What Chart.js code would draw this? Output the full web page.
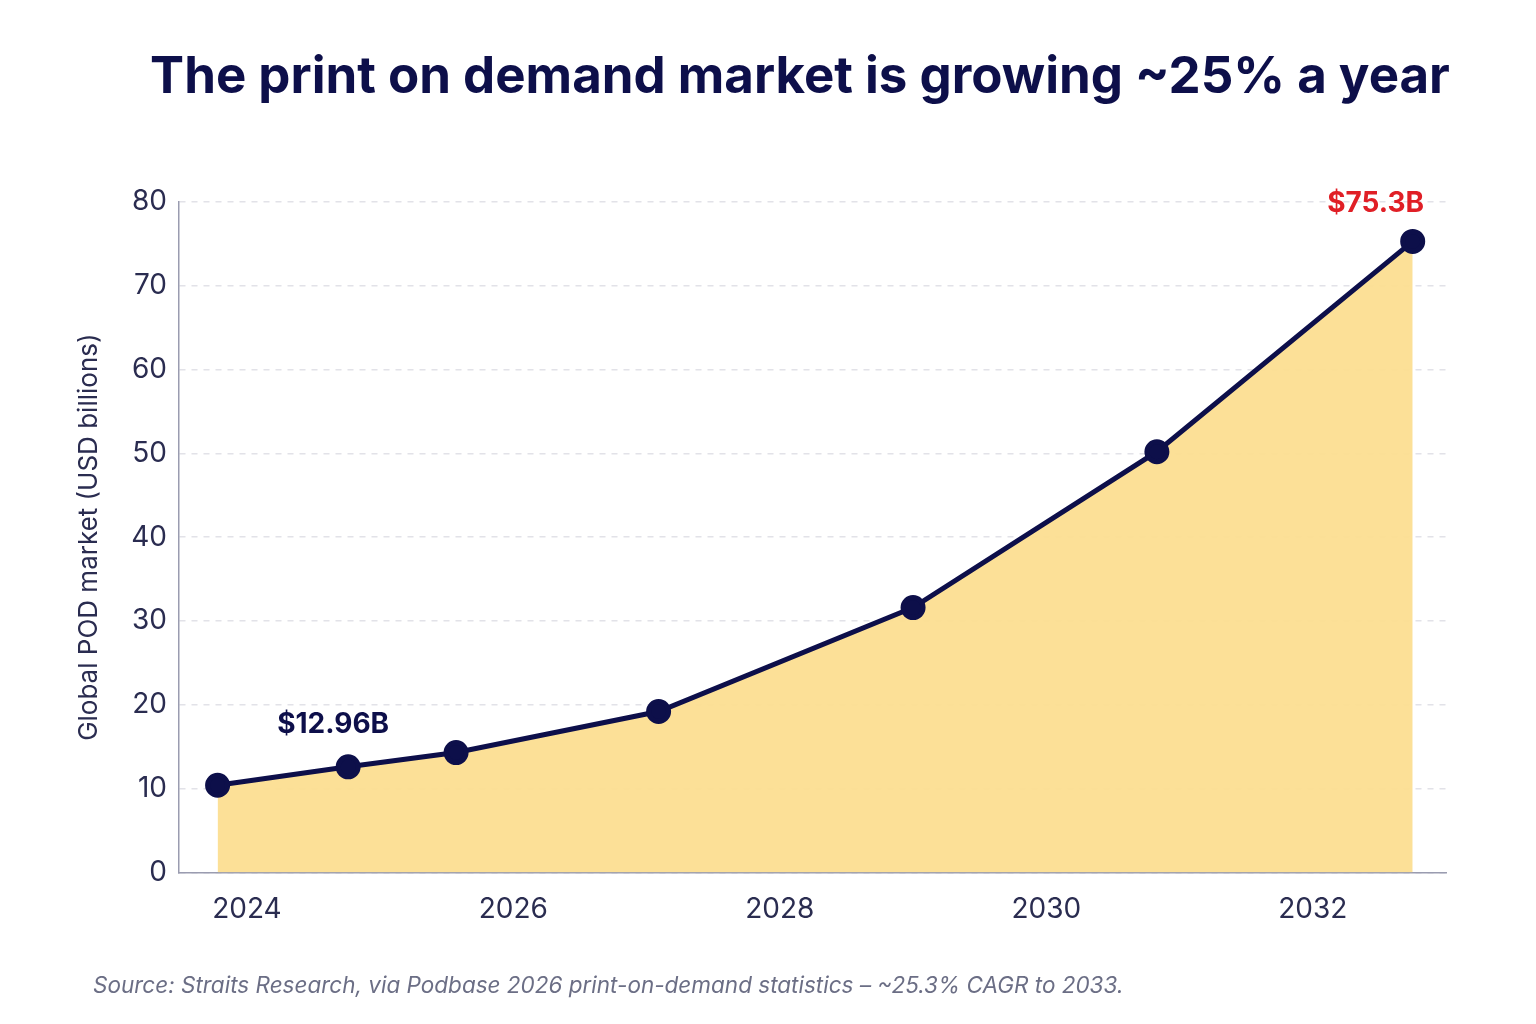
<!DOCTYPE html>
<html>
<head>
<meta charset="utf-8">
<script src="https://cdn.jsdelivr.net/npm/chart.js@4"></script>
<style>
  body { margin: 0; background: #fff; }
  #wrap { width: 1536px; height: 1024px; }
</style>
</head>
<body>
<div id="wrap"><canvas id="chart" width="1536" height="1024"></canvas></div>
<script>
const years = [2023.78, 2024.76, 2025.57, 2027.09, 2029.0, 2030.83, 2032.75];
const marketValues = [10.4, 12.6, 14.3, 19.2, 31.6, 50.2, 75.3];
const xTicks = [2024, 2026, 2028, 2030, 2032];
const callouts = [
  { index: 1, text: '$12.96B', color: '#0d0f4a', dx: -15, dy: -42 },
  { index: 6, text: '$75.3B', color: '#e01f26', dx: -37, dy: -38 }
];

const navy = '#0d0f4a';

const extras = {
  id: 'extras',
  afterDraw(chart) {
    const { ctx, scales } = chart;
    ctx.save();
    ctx.textAlign = 'center';
    ctx.textBaseline = 'middle';
    ctx.fillStyle = navy;
    ctx.font = 'bold 51px Inter, "Noto Sans", sans-serif';
    ctx.fillText('The print on demand market is growing ~25% a year', 800, 78);

    ctx.font = 'bold 28px Inter, "Noto Sans", sans-serif';
    callouts.forEach(c => {
      const x = scales.x.getPixelForValue(years[c.index]);
      const y = scales.y.getPixelForValue(marketValues[c.index]);
      ctx.fillStyle = c.color;
      ctx.fillText(c.text, x + c.dx, y + c.dy);
    });

    ctx.textAlign = 'left';
    ctx.fillStyle = '#6b6e85';
    ctx.font = 'italic 22.5px Inter, "Noto Sans", sans-serif';
    ctx.fillText('Source: Straits Research, via Podbase 2026 print-on-demand statistics \u2013 ~25.3% CAGR to 2033.', 93, 986);
    ctx.restore();
  }
};

new Chart(document.getElementById('chart'), {
  type: 'line',
  data: {
    datasets: [{
      data: years.map((y, i) => ({ x: y, y: marketValues[i] })),
      borderColor: navy,
      borderWidth: 5,
      backgroundColor: 'rgba(252, 222, 145, 0.95)',
      fill: 'origin',
      pointRadius: 10,
      pointBackgroundColor: navy,
      pointBorderColor: navy,
      tension: 0
    }]
  },
  options: {
    responsive: false,
    animation: false,
    layout: { padding: { top: 202, left: 60, right: 90, bottom: 86 } },
    plugins: { legend: { display: false }, tooltip: { enabled: false } },
    scales: {
      x: {
        type: 'linear',
        min: 2023.49,
        max: 2033.0,
        afterBuildTicks: axis => { axis.ticks = xTicks.map(v => ({ value: v })); },
        ticks: { color: '#2a2c50', font: { size: 28, family: 'Inter, "Noto Sans", sans-serif' }, padding: 12, callback: v => String(v) },
        grid: { display: false },
        border: { color: '#9a9cb0', width: 1.5 }
      },
      y: {
        min: 0,
        max: 80,
        ticks: { stepSize: 10, color: '#2a2c50', font: { size: 28, family: 'Inter, "Noto Sans", sans-serif' }, padding: 12 },
        grid: { color: '#e2e2e8', lineWidth: 1.5, drawTicks: false },
        border: { color: '#9a9cb0', width: 1.5, dash: [6, 6] },
        title: { display: true, text: 'Global POD market (USD billions)', color: '#2a2c50', font: { size: 26, family: 'Inter, "Noto Sans", sans-serif' }, padding: 14 }
      }
    }
  },
  plugins: [extras]
});
</script>
</body>
</html>
